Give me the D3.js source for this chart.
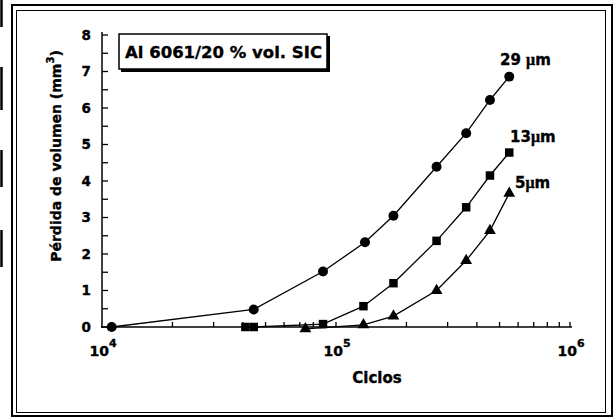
<!DOCTYPE html>
<html>
<head>
<meta charset="utf-8">
<script src="https://cdn.jsdelivr.net/npm/d3@7"></script>
<style>
  html, body { margin: 0; padding: 0; background: #fff; }
  svg { display: block; }
  text { font-family: "DejaVu Sans", Verdana, sans-serif; font-weight: bold; fill: #000;
         stroke: #000; stroke-width: 0.35px; }
</style>
</head>
<body>
<svg id="chart" width="615" height="419"></svg>
<script>
// Volume loss vs. number of cycles for Al 6061 / 20 % vol. SiC, three particle sizes
const cycles29 = [1.1e4, 4.45e4, 8.8e4, 1.33e5, 1.76e5, 2.69e5, 3.6e5, 4.55e5, 5.5e5];
const loss29   = [0, 0.48, 1.52, 2.32, 3.05, 4.39, 5.31, 6.22, 6.86];

const cycles13 = [4.1e4, 4.45e4, 8.8e4, 1.31e5, 1.76e5, 2.69e5, 3.6e5, 4.55e5, 5.5e5];
const loss13   = [0, 0, 0.08, 0.57, 1.2, 2.36, 3.28, 4.15, 4.78];

const cycles5  = [7.4e4, 1.31e5, 1.76e5, 2.69e5, 3.6e5, 4.55e5, 5.5e5];
const loss5    = [-0.05, 0.06, 0.3, 1.0, 1.82, 2.64, 3.66];

const seriesNames = ["29 ", "13", "5"];
const yTicks = [0, 1, 2, 3, 4, 5, 6, 7, 8];
const xDecades = [4, 5, 6];

const svg = d3.select("#chart");

// double frame around the figure
svg.append("rect").attr("x", 12).attr("y", 5).attr("width", 600).attr("height", 411)
  .attr("fill", "none").attr("stroke", "#000").attr("stroke-width", 2);
svg.append("rect").attr("x", 16.5).attr("y", 10.5).attr("width", 589).attr("height", 402)
  .attr("fill", "none").attr("stroke", "#000").attr("stroke-width", 1);
// broken edge strokes on the far left
[[0, 27], [67, 110], [150, 187], [230, 267]].forEach(([a, b]) =>
  svg.append("line").attr("x1", 1.5).attr("x2", 1.5).attr("y1", a).attr("y2", b)
    .attr("stroke", "#000").attr("stroke-width", 2.5));

const x = d3.scaleLog().domain([1e4, 1e6]).range([102, 570]);
const y = d3.scaleLinear().domain([0, 8]).range([327, 35]);
const x0 = x.range()[0], y0 = y.range()[0];

// axis lines
svg.append("line").attr("x1", x0).attr("x2", x0).attr("y1", 32).attr("y2", y0 + 1)
  .attr("stroke", "#000").attr("stroke-width", 1.5);
svg.append("line").attr("x1", x0 - 1).attr("x2", 572).attr("y1", y0).attr("y2", y0)
  .attr("stroke", "#000").attr("stroke-width", 1.5);

// y ticks every half unit, pointing inward
svg.append("g").selectAll("line").data(d3.range(0, 8.01, 0.5)).join("line")
  .attr("x1", x0).attr("x2", x0 + 6)
  .attr("y1", d => y(d)).attr("y2", d => y(d))
  .attr("stroke", "#000").attr("stroke-width", 1.3);
svg.append("g").selectAll("text").data(yTicks).join("text")
  .attr("x", x0 - 11).attr("y", d => y(d)).attr("dy", "0.36em")
  .attr("text-anchor", "end").style("font-size", "13.5px")
  .text(d3.format("d"));

// x log ticks pointing up
const minorX = [];
for (let e = 4; e < 6; e++) for (let m = 2; m <= 10; m++) minorX.push(m * Math.pow(10, e));
svg.append("g").selectAll("line").data(minorX).join("line")
  .attr("x1", d => x(d)).attr("x2", d => x(d))
  .attr("y1", y0).attr("y2", y0 - 5)
  .attr("stroke", "#000").attr("stroke-width", 1.3);

// decade labels 10^n
xDecades.forEach(e => {
  const t = svg.append("text").attr("x", x(Math.pow(10, e)) + 1).attr("y", 356)
    .attr("text-anchor", "middle").style("font-size", "14px");
  t.append("tspan").text("10");
  t.append("tspan").attr("dy", -9).style("font-size", "11px").text(e);
});

// axis titles
svg.append("text").attr("x", 377).attr("y", 383).attr("text-anchor", "middle")
  .style("font-size", "15px").text("Ciclos");
const yt = svg.append("text").attr("transform", "translate(61,156) rotate(-90)")
  .attr("text-anchor", "middle").style("font-size", "14px");
yt.append("tspan").text("Pérdida de volumen (mm");
yt.append("tspan").attr("dy", -7).style("font-size", "10px").text("3");
yt.append("tspan").attr("dy", 7).text(")");

// annotation box with shadow
svg.append("rect").attr("x", 121).attr("y", 36).attr("width", 209).attr("height", 36).attr("fill", "#000");
svg.append("rect").attr("x", 119).attr("y", 34).attr("width", 208).attr("height", 35)
  .attr("fill", "#fff").attr("stroke", "#000").attr("stroke-width", 1.5);
svg.append("text").attr("x", 125).attr("y", 58).style("font-size", "16.5px").text("Al 6061/20 % vol. SIC");

// series
const series = [
  { name: seriesNames[0], xs: cycles29, ys: loss29, symbol: d3.symbolCircle, size: 78 },
  { name: seriesNames[1], xs: cycles13, ys: loss13, symbol: d3.symbolSquare, size: 72 },
  { name: seriesNames[2], xs: cycles5,  ys: loss5,  symbol: d3.symbolTriangle, size: 60 }
];
const line = d3.line().x(d => x(d[0])).y(d => y(d[1]));
series.forEach(s => {
  const pts = s.xs.map((v, i) => [v, s.ys[i]]);
  svg.append("path").datum(pts).attr("d", line)
    .attr("fill", "none").attr("stroke", "#000").attr("stroke-width", 1.3);
  svg.append("g").selectAll("path").data(pts).join("path")
    .attr("transform", d => `translate(${x(d[0])},${y(d[1])})`)
    .attr("d", d3.symbol().type(s.symbol).size(s.size))
    .attr("fill", "#000");
});

// series labels
const labelPos = [[500, 65], [510, 142], [515, 188]];
series.forEach((s, i) => {
  const t = svg.append("text").attr("x", labelPos[i][0]).attr("y", labelPos[i][1])
    .style("font-size", "15px");
  t.append("tspan").text(s.name);
  t.append("tspan").style("font-family", "'Liberation Serif', serif").style("font-size", "16px").text("μ");
  t.append("tspan").text("m");
});
</script>
</body>
</html>
